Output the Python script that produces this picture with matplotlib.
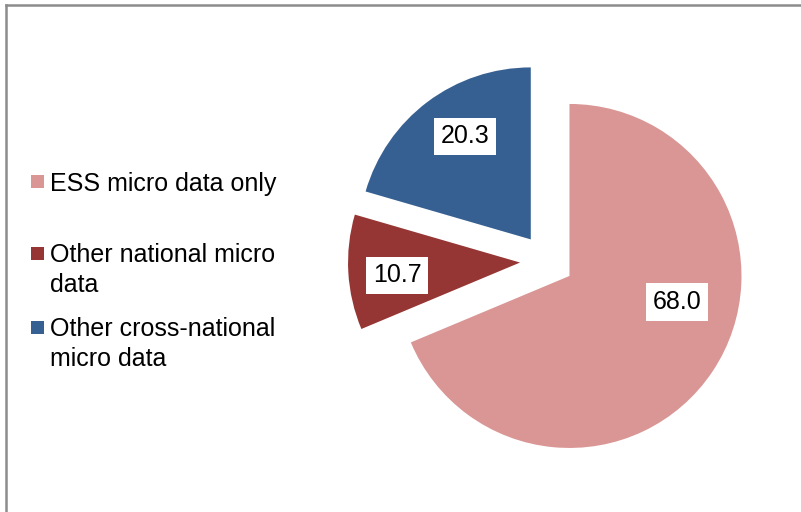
import matplotlib
matplotlib.use("Agg")
import matplotlib.pyplot as plt
from matplotlib.lines import Line2D
from matplotlib.patches import Rectangle

# ---- data ----
categories = ["ESS micro data only", "Other national micro\ndata", "Other cross-national\nmicro data"]
values = [68.0, 10.7, 20.3]
value_labels = ["68.0", "10.7", "20.3"]
colors = ["#D99694", "#963634", "#376092"]

# ---- layout constants ----
W, H = 801, 512
DPI = 100
R_PX = 172.0                 # pie radius in pixels
CX, CY = 547.0, 261.0        # pie centre (image px, y from top)
EXPLODE = 27.0 / R_PX
label_pos = [(0.756, -0.238), (-0.872, -0.084), (-0.477, 0.724)]  # data coords
FONT = ["Liberation Sans", "DejaVu Sans"]
FS = 18

plt.rcParams["font.family"] = FONT

fig = plt.figure(figsize=(W / DPI, H / DPI), dpi=DPI)
fig.patch.set_facecolor("white")

half = 245.0
ax = fig.add_axes([(CX - half) / W, (H - CY - half) / H, 2 * half / W, 2 * half / H])
ax.set_aspect("equal")
ax.axis("off")

ax.pie(values, colors=colors, startangle=90, counterclock=False,
       explode=[EXPLODE] * len(values), radius=1.0,
       wedgeprops=dict(linewidth=0))
ax.set_xlim(-half / R_PX, half / R_PX)
ax.set_ylim(-half / R_PX, half / R_PX)

for txt, (lx, ly) in zip(value_labels, label_pos):
    ax.text(lx, ly, txt, ha="center", va="center", fontsize=FS, color="black",
            bbox=dict(boxstyle="square,pad=0.27", facecolor="white", edgecolor="none"))

# ---- legend (manual) ----
marker_centers = [181.5, 253.5, 327.0]
msize = 13.0
text_x = 50.0
line_gap = 29.5
for cat, col, mc in zip(categories, colors, marker_centers):
    fig.patches.append(Rectangle((31.0 / W, (H - mc - msize / 2) / H), msize / W, msize / H,
                                 transform=fig.transFigure, facecolor=col, edgecolor="none"))
    for i, line in enumerate(cat.split("\n")):
        base = mc + 9.0 + i * line_gap
        fig.text(text_x / W, (H - base) / H, line, ha="left", va="baseline",
                 fontsize=FS, color="black")

# ---- outer frame ----
border_col = "#8C8C8C"
fig.add_artist(Line2D([6 / W, 1.0], [(H - 5) / H, (H - 5) / H], transform=fig.transFigure,
                      color=border_col, linewidth=1.8))
fig.add_artist(Line2D([6 / W, 6 / W], [0.0, (H - 5) / H], transform=fig.transFigure,
                      color=border_col, linewidth=1.8))

fig.savefig("out.png", dpi=DPI, facecolor="white")
